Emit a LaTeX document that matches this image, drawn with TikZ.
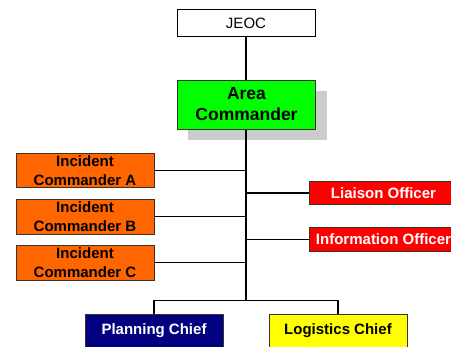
\documentclass[tikz,border=0pt]{standalone}
\usepackage{fontspec}
\setmainfont{Liberation Sans}
\usetikzlibrary{backgrounds}
\definecolor{orgorange}{RGB}{255,102,0}
\definecolor{orggreen}{RGB}{0,255,0}
\definecolor{orgred}{RGB}{255,0,0}
\definecolor{orgnavy}{RGB}{0,0,128}
\definecolor{orgyellow}{RGB}{255,255,0}
\definecolor{orgshadow}{RGB}{204,204,204}
\definecolor{orgborder}{RGB}{60,50,40}
\tikzset{
  box/.style={draw=orgborder, line width=0.8pt, inner sep=0pt, align=center,
    font=\fontsize{15}{19}\selectfont\bfseries, minimum width=138pt},
  link/.style={draw=black, line width=1.1pt},
}
\begin{document}
\begin{tikzpicture}[x=1pt,y=-1pt]
\useasboundingbox (0,0) rectangle (451,347);
\clip (0,0) rectangle (451,347);
\node[box, draw=black, fill=white, minimum height=27pt, font=\fontsize{15}{19}\selectfont] (jeoc) at (246,23) {JEOC};
\node[box, fill=orggreen, minimum height=49pt, font=\fontsize{17.5}{21}\selectfont\bfseries] (area) at (246.5,104.5) {Area\\Commander};
\node[box, fill=orgorange, minimum height=34.5pt] (inca) at (85,170.5) {Incident\\Commander A};
\node[box, fill=orgorange, minimum height=35pt] (incb) at (85,216.8) {Incident\\Commander B};
\node[box, fill=orgorange, minimum height=34.5pt] (incc) at (85,262.9) {Incident\\Commander C};
\node[box, fill=orgred, text=white, minimum width=149pt, minimum height=22.5pt] (liaison) at (383.5,193) {Liaison Officer};
\node[box, fill=orgred, text=white, minimum width=149pt, minimum height=23.3pt] (info) at (383.5,239.4) {Information Officer};
\node[box, fill=orgnavy, text=white, minimum height=34pt] (plan) at (154,331) {Planning Chief};
\node[box, fill=orgyellow, minimum height=34pt] (log) at (338,331) {Logistics Chief};
\coordinate (bus) at (246,300.7);
\begin{pgfonlayer}{background}
  \fill[orgshadow] (area.south west) ++(11,11) coordinate (shsw) rectangle ([shift={(11,11)}]area.north east);
  \draw[link] (jeoc.south) -- (bus);
  \draw[link] (inca.east) -- (inca.east -| bus);
  \draw[link] (incb.east) -- (incb.east -| bus);
  \draw[link] (incc.east) -- (incc.east -| bus);
  \draw[link] (liaison.west) -- (liaison.west -| bus);
  \draw[link] (info.west) -- (info.west -| bus);
  \draw[link] (plan.north) |- (bus) -| (log.north);
\end{pgfonlayer}
\end{tikzpicture}
\end{document}
